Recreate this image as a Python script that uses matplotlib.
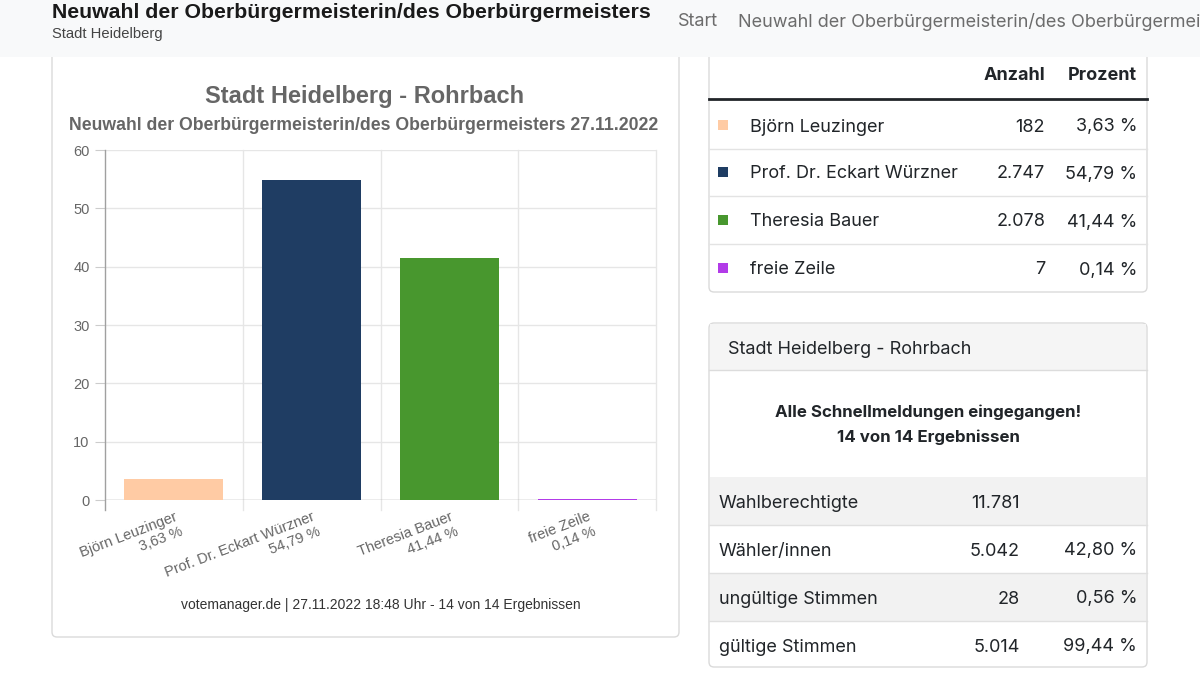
import math
import matplotlib
matplotlib.use("Agg")
import matplotlib.pyplot as plt
import matplotlib.patches as mpatches

# ---------------- data ----------------
candidates = ["Björn Leuzinger", "Prof. Dr. Eckart Würzner", "Theresia Bauer", "freie Zeile"]
votes = ["182", "2.747", "2.078", "7"]
percent = [3.63, 54.79, 41.44, 0.14]
percent_labels = ["3,63 %", "54,79 %", "41,44 %", "0,14 %"]
colors = ["#ffcba4", "#1f3d63", "#48972e", "#b23be8"]
y_ticks = [0, 10, 20, 30, 40, 50, 60]

summary_labels = ["Wahlberechtigte", "Wähler/innen", "ungültige Stimmen", "gültige Stimmen"]
summary_counts = ["11.781", "5.042", "28", "5.014"]
summary_percent = ["", "42,80 %", "0,56 %", "99,44 %"]

page_title = "Neuwahl der Oberbürgermeisterin/des Oberbürgermeisters"
page_sub = "Stadt Heidelberg"
chart_title = "Stadt Heidelberg - Rohrbach"
chart_subtitle = "Neuwahl der Oberbürgermeisterin/des Oberbürgermeisters 27.11.2022"
chart_credit = "votemanager.de | 27.11.2022 18:48 Uhr - 14 von 14 Ergebnissen"

W, H = 1200, 679
fig = plt.figure(figsize=(W / 100, H / 100), dpi=100)
fig.patch.set_facecolor("white")

# page overlay axes in pixel coordinates
pg = fig.add_axes([0, 0, 1, 1], zorder=0)
pg.set_xlim(0, W)
pg.set_ylim(H, 0)
pg.axis("off")

UI = ["Inter", "DejaVu Sans"]
ARIAL = ["Liberation Sans", "DejaVu Sans"]


def card(x0, y0, x1, y1):
    p = mpatches.FancyBboxPatch((x0, y0), x1 - x0, y1 - y0,
                                boxstyle="round,pad=0,rounding_size=5",
                                facecolor="white", edgecolor="#dadada", linewidth=1.0, zorder=1)
    pg.add_patch(p)


card(52, 30, 679, 637)
card(709, 30, 1147, 292)
card(709, 323, 1147, 667)

# header band
pg.add_patch(mpatches.Rectangle((0, 0), W, 57, facecolor="#f8f9fa", edgecolor="none", zorder=5))
pg.text(52, 12, page_title, fontsize=15.3, fontweight="bold", color="#1a1a1a",
        family=ARIAL, va="center", ha="left", zorder=6)
pg.text(52, 34, page_sub, fontsize=10.6, color="#444444", family=ARIAL, va="center", ha="left", zorder=6)
pg.text(678, 22, "Start", fontsize=13, color="#6c6c6c", family=UI, va="center", ha="left", zorder=6)
pg.text(738, 22, page_title, fontsize=13, color="#6c6c6c", family=UI, va="center", ha="left",
        zorder=6, clip_on=True)

# chart titles
pg.text(365, 97, chart_title, fontsize=17, fontweight="bold", color="#666666", family=ARIAL,
        ha="center", va="center", zorder=3)
pg.text(364, 125, chart_subtitle, fontsize=12.7, fontweight="bold", color="#666666", family=ARIAL,
        ha="center", va="center", zorder=3)
pg.text(381, 605, chart_credit, fontsize=10, color="#333333", family=ARIAL,
        ha="center", va="center", zorder=3)

# ---------------- bar chart ----------------
ax_l, ax_r, ax_t, ax_b = 105, 656, 150, 500
ax = fig.add_axes([ax_l / W, 1 - ax_b / H, (ax_r - ax_l) / W, (ax_b - ax_t) / H], zorder=2)
ax.patch.set_alpha(0)
xs = list(range(len(candidates)))
ax.bar(xs, percent, width=0.72, color=colors, zorder=5)
ax.set_xlim(-0.5, len(candidates) - 0.5)
ax.set_ylim(0, 60)
for s in ax.spines.values():
    s.set_visible(False)
ax.set_yticks(y_ticks)
ax.set_yticklabels([str(v) for v in y_ticks], fontsize=10.5, color="#666666", family=ARIAL)
ax.tick_params(axis="y", length=7, color="#cccccc", pad=4)
ax.set_xticks([])
below = -10 * 60 / 350  # ~10px below zero line
for yv in y_ticks[1:]:
    ax.axhline(yv, color="#e6e6e6", linewidth=1, zorder=1)
for b in [x + 0.5 for x in xs]:
    ax.plot([b, b], [below, 60], color="#e6e6e6", linewidth=1, zorder=1, clip_on=False)
ax.plot([-0.5, -0.5], [below, 60], color="#a0a0a0", linewidth=1, zorder=4, clip_on=False)
ax.axhline(0, color="#a0a0a0", linewidth=1, zorder=4)

rot = 21
line_h = 16  # pixels between the two label lines
dx2 = line_h * math.sin(math.radians(rot))
dy2 = -line_h * math.cos(math.radians(rot))
for i, (c, pl) in enumerate(zip(candidates, percent_labels)):
    for txt, off in ((c, (0, -10)), (pl, (dx2, -10 + dy2))):
        ax.annotate(txt, xy=(i, 0), xycoords="data", xytext=off, textcoords="offset pixels",
                    rotation=rot, rotation_mode="anchor", ha="right", va="top",
                    fontsize=10.5, color="#666666", family=ARIAL, annotation_clip=False)

# ---------------- right table ----------------
col_cnt, col_pct = 1045, 1137
pg.text(col_cnt, 76, "Anzahl", fontsize=13, fontweight="bold", color="#212529", family=UI,
        ha="right", va="center", zorder=3)
pg.text(col_pct, 76, "Prozent", fontsize=13, fontweight="bold", color="#212529", family=UI,
        ha="right", va="center", zorder=3)
pg.plot([709, 1147], [99, 99], color="#212529", linewidth=2, zorder=3)
row_y = [125, 172, 220, 268]
for k, y in enumerate(row_y):
    pg.add_patch(mpatches.Rectangle((718, y - 5), 10, 10, facecolor=colors[k], edgecolor="none", zorder=3))
    yt = y + 2
    pg.text(750, yt, candidates[k], fontsize=13, color="#212529", family=UI, ha="left", va="center", zorder=3)
    pg.text(col_cnt, yt, votes[k], fontsize=13, color="#212529", family=UI, ha="right", va="center", zorder=3)
    pg.text(col_pct, yt, percent_labels[k], fontsize=13, color="#212529", family=UI, ha="right",
            va="center", zorder=3)
    if k < len(row_y) - 1:
        pg.plot([709, 1147], [y + 24, y + 24], color="#e3e3e3", linewidth=1, zorder=3)

# ---------------- summary card ----------------
pg.add_patch(mpatches.Rectangle((710, 324), 436, 46, facecolor="#f5f5f5", edgecolor="none", zorder=2))
pg.plot([709, 1147], [370, 370], color="#dcdcdc", linewidth=1, zorder=3)
pg.text(728, 349, chart_title, fontsize=13, color="#212529", family=UI, ha="left", va="center", zorder=3)
pg.text(928, 412, "Alle Schnellmeldungen eingegangen!", fontsize=12.2, fontweight="bold",
        color="#212529", family=UI, ha="center", va="center", zorder=3)
pg.text(928, 437, "14 von 14 Ergebnissen", fontsize=12.2, fontweight="bold",
        color="#212529", family=UI, ha="center", va="center", zorder=3)
srow_top = [477, 525, 573, 621]
for k, yt in enumerate(srow_top):
    hgt = 48 if k < 3 else 45
    if k % 2 == 0:
        pg.add_patch(mpatches.Rectangle((710, yt), 436, hgt, facecolor="#f2f2f2", edgecolor="none", zorder=2))
    if k > 0:
        pg.plot([709, 1147], [yt, yt], color="#e0e0e0", linewidth=1, zorder=3)
    yc = yt + 26
    pg.text(719, yc, summary_labels[k], fontsize=13, color="#212529", family=UI, ha="left", va="center", zorder=3)
    pg.text(1020, yc, summary_counts[k], fontsize=13, color="#212529", family=UI, ha="right", va="center", zorder=3)
    if summary_percent[k]:
        pg.text(col_pct, yc, summary_percent[k], fontsize=13, color="#212529", family=UI, ha="right",
                va="center", zorder=3)

fig.savefig("out.png", dpi=100, facecolor="white")
